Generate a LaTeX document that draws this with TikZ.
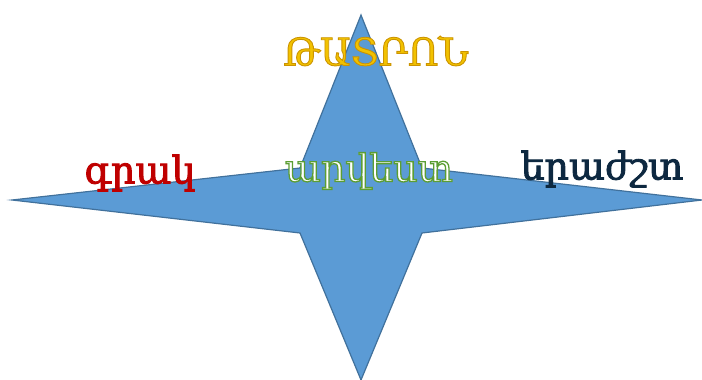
\documentclass[tikz,border=0pt]{standalone}
\usepackage{fontspec}
\newfontfamily\armfont{DejaVu Serif}
\definecolor{starfill}{HTML}{5B9BD5}
\definecolor{starline}{HTML}{41719C}
\definecolor{goldtext}{HTML}{F2C200}
\definecolor{redtext}{HTML}{C00000}
\definecolor{navytext}{HTML}{0E2841}
% text with a coloured outline (stroke colour as r g b, line width)
\newcommand\outlined[3]{\special{pdf:code q 2 Tr #2 w #1 RG}#3\special{pdf:code Q}}
\tikzset{
  star/.style={fill=starfill,draw=starline,line width=1.2pt,line join=miter},
  word/.style={font=\armfont\fontsize{38}{44}\selectfont,inner sep=0pt}
}
\begin{document}
\begin{tikzpicture}[x=1pt,y=-1pt]
    \useasboundingbox (0,0) rectangle (702,380);
    % the four-pointed star
    \coordinate (top) at (361,15);
    \coordinate (right) at (702,200);
    \coordinate (bottom) at (361,380);
    \coordinate (left) at (12,200);
    \draw[star] (top) -- (422,168) -- (right) -- (422,233) -- (bottom)
        -- (300,233) -- (left) -- (300,168) -- cycle;
    % words
    \node[word,text=goldtext] (theatre) at (376,51) {\outlined{0.8 0.58 0}{0.9}{ԹԱՏՐՈՆ}};
    \node[word,text=redtext] (literature) at (140,173) {\outlined{0.75 0 0}{0.9}{գրակ}};
    \node[word,text=white] (art) at (369,171) {\outlined{0.36 0.62 0.2}{1.3}{արվեստ}};
    \node[word,text=navytext] (music) at (602,169) {\outlined{0.05 0.16 0.25}{0.9}{երաժշտ}};
\end{tikzpicture}
\end{document}
